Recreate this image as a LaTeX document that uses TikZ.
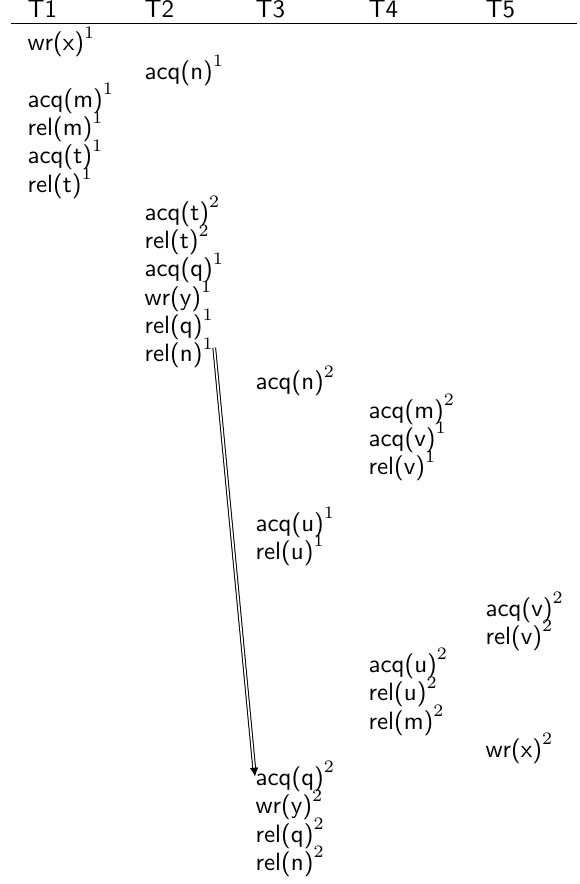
\documentclass[tikz,border=0pt]{standalone}
\usetikzlibrary{calc,arrows.meta}
\begin{document}
\begin{tikzpicture}[x=0.4pt,y=-0.4pt,
  op/.style={anchor=base west,inner sep=0pt,font=\sffamily},
  hdr/.style={anchor=base west,inner sep=0pt,font=\sffamily},
  hb/.style={double,double distance=0.7pt,line width=0.4pt,-{Latex[length=3.6pt,width=3.4pt]}}]
\useasboundingbox (0,0) rectangle (579,884);
\def\ra{27}\def\rb{144}\def\rc{255}\def\rd{368}\def\re{485}
\def\rowy#1{51+28.25*#1}
\newcommand\opt[2]{$\mbox{#1}^{#2}$}
% header
\node[hdr] (h1) at (\ra,18) {T1};
\node[hdr] (h2) at (\rb,18) {T2};
\node[hdr] (h3) at (\rc,18) {T3};
\node[hdr] (h4) at (\rd,18) {T4};
\node[hdr] (h5) at (\re,18) {T5};
\draw[line width=0.4pt] (11,24) -- (577,24);
% T1
\node[op] (wrx1)  at (\ra,{\rowy{0}}) {\opt{wr(x)}{1}};
\node[op] (acqm1) at (\ra,{\rowy{2}}) {\opt{acq(m)}{1}};
\node[op] (relm1) at (\ra,{\rowy{3}}) {\opt{rel(m)}{1}};
\node[op] (acqt1) at (\ra,{\rowy{4}}) {\opt{acq(t)}{1}};
\node[op] (relt1) at (\ra,{\rowy{5}}) {\opt{rel(t)}{1}};
% T2
\node[op] (acqn1) at (\rb,{\rowy{1}}) {\opt{acq(n)}{1}};
\node[op] (acqt2) at (\rb,{\rowy{6}}) {\opt{acq(t)}{2}};
\node[op] (relt2) at (\rb,{\rowy{7}}) {\opt{rel(t)}{2}};
\node[op] (acqq1) at (\rb,{\rowy{8}}) {\opt{acq(q)}{1}};
\node[op] (wry1)  at (\rb,{\rowy{9}}) {\opt{wr(y)}{1}};
\node[op] (relq1) at (\rb,{\rowy{10}}) {\opt{rel(q)}{1}};
\node[op] (reln1) at (\rb,{\rowy{11}}) {\opt{rel(n)}{1}};
% T3
\node[op] (acqn2) at (\rc,{\rowy{12}}) {\opt{acq(n)}{2}};
\node[op] (acqu1) at (\rc,{\rowy{17}}) {\opt{acq(u)}{1}};
\node[op] (relu1) at (\rc,{\rowy{18}}) {\opt{rel(u)}{1}};
\node[op] (acqq2) at (\rc,{\rowy{26}}) {\opt{acq(q)}{2}};
\node[op] (wry2)  at (\rc,{\rowy{27}}) {\opt{wr(y)}{2}};
\node[op] (relq2) at (\rc,{\rowy{28}}) {\opt{rel(q)}{2}};
\node[op] (reln2) at (\rc,{\rowy{29}}) {\opt{rel(n)}{2}};
% T4
\node[op] (acqm2) at (\rd,{\rowy{13}}) {\opt{acq(m)}{2}};
\node[op] (acqv1) at (\rd,{\rowy{14}}) {\opt{acq(v)}{1}};
\node[op] (relv1) at (\rd,{\rowy{15}}) {\opt{rel(v)}{1}};
\node[op] (acqu2) at (\rd,{\rowy{22}}) {\opt{acq(u)}{2}};
\node[op] (relu2) at (\rd,{\rowy{23}}) {\opt{rel(u)}{2}};
\node[op] (relm2) at (\rd,{\rowy{24}}) {\opt{rel(m)}{2}};
% T5
\node[op] (acqv2) at (\re,{\rowy{20}}) {\opt{acq(v)}{2}};
\node[op] (relv2) at (\re,{\rowy{21}}) {\opt{rel(v)}{2}};
\node[op] (wrx2)  at (\re,{\rowy{25}}) {\opt{wr(x)}{2}};
% arrow
\coordinate (astart) at ([yshift=-3pt]relq1.south east);
\draw[hb] (astart) -- (acqq2.west);
\end{tikzpicture}
\end{document}
